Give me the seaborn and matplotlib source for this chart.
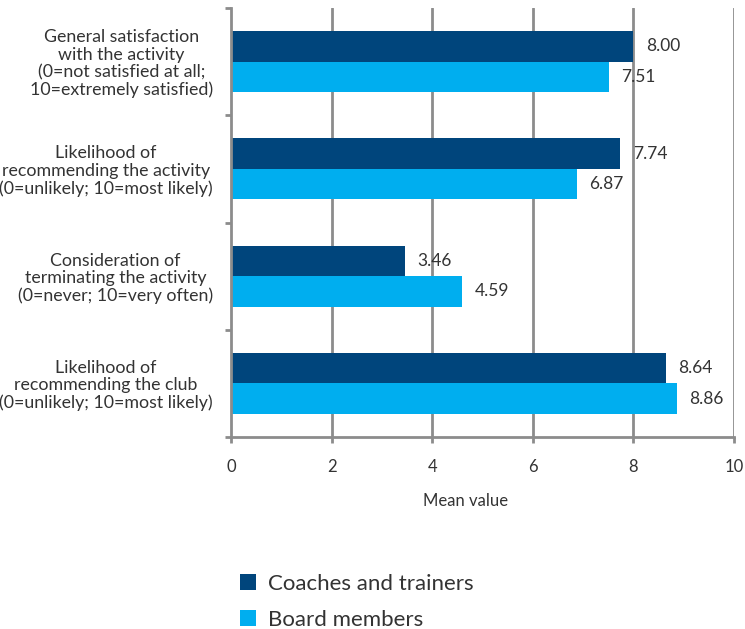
import matplotlib
matplotlib.use("Agg")
import matplotlib.pyplot as plt
from matplotlib.patches import Patch
import seaborn as sns
import pandas as pd

categories = [
    "General satisfaction\nwith the activity\n(0=not satisfied at all;\n10=extremely satisfied)",
    "Likelihood of\nrecommending the activity\n(0=unlikely; 10=most likely)",
    "Consideration of\nterminating the activity\n(0=never; 10=very often)",
    "Likelihood of\nrecommending the club\n(0=unlikely; 10=most likely)",
]
series_names = ["Coaches and trainers", "Board members"]
coaches = [8.00, 7.74, 3.46, 8.64]
board = [7.51, 6.87, 4.59, 8.86]
x_ticks = [0, 2, 4, 6, 8, 10]

colors = ["#00457C", "#00AEEF"]
grid_col = "#8C8C8C"
text_col = "#333333"

df = pd.DataFrame({
    "category": categories * 2,
    "group": [series_names[0]] * 4 + [series_names[1]] * 4,
    "value": coaches + board,
})

sns.set_theme(style="white")
plt.rcParams["font.family"] = ["Lato", "DejaVu Sans"]

fig = plt.figure(figsize=(7.45, 6.29), dpi=100)
ax = fig.add_axes([231 / 745, 1 - 437 / 629, 503 / 745, 429 / 629])

sns.barplot(data=df, y="category", x="value", hue="group", orient="h",
            palette=colors, width=0.57, saturation=1, linewidth=0,
            ax=ax, legend=False, order=categories, hue_order=series_names)

ax.set_xlim(0, 10)
ax.set_ylim(3.5, -0.5)
ax.set_xticks(x_ticks)
ax.set_xticklabels([str(t) for t in x_ticks], fontsize=12, color=text_col)
ax.set_yticks(range(len(categories)))
ax.set_yticklabels(categories, fontsize=12.8, color=text_col,
                   multialignment="center", linespacing=1.1)
ax.set_yticks([-0.5, 0.5, 1.5, 2.5, 3.5], minor=True)
ax.tick_params(axis="y", which="major", length=0, pad=13)
ax.tick_params(axis="y", which="minor", length=4, width=2, color=grid_col, direction="out", left=True)
ax.tick_params(axis="x", length=4, width=2, color=grid_col, direction="out", bottom=True, pad=12)

for t in x_ticks[1:]:
    ax.axvline(t, color=grid_col, lw=2, zorder=0)
for side in ["top", "right"]:
    ax.spines[side].set_visible(False)
for side in ["left", "bottom"]:
    ax.spines[side].set_color(grid_col)
    ax.spines[side].set_linewidth(2)

ax.set_xlabel("Mean value", fontsize=12, color=text_col)
ax.xaxis.set_label_coords((466 - 231) / 503, -(501 - 437) / 429, transform=ax.transAxes)
ax.xaxis.label.set_va("center")
ax.set_ylabel("")

for cont in ax.containers:
    for bar in cont:
        w = bar.get_width()
        ax.annotate(f"{w:.2f}", (w, bar.get_y() + bar.get_height() / 2),
                    xytext=(9, 0), textcoords="offset points",
                    va="center", ha="left", fontsize=12.5, color=text_col)

handles = [Patch(facecolor=c, edgecolor="none") for c in colors]
fig.legend(handles, series_names, loc="upper left",
           bbox_to_anchor=(240 / 745, 1 - 574 / 629), frameon=False,
           borderpad=0, borderaxespad=0,
           fontsize=16, handlelength=0.7, handleheight=0.7,
           handletextpad=0.55, labelspacing=0.7, labelcolor=text_col)

fig.savefig("out.png", dpi=100)
